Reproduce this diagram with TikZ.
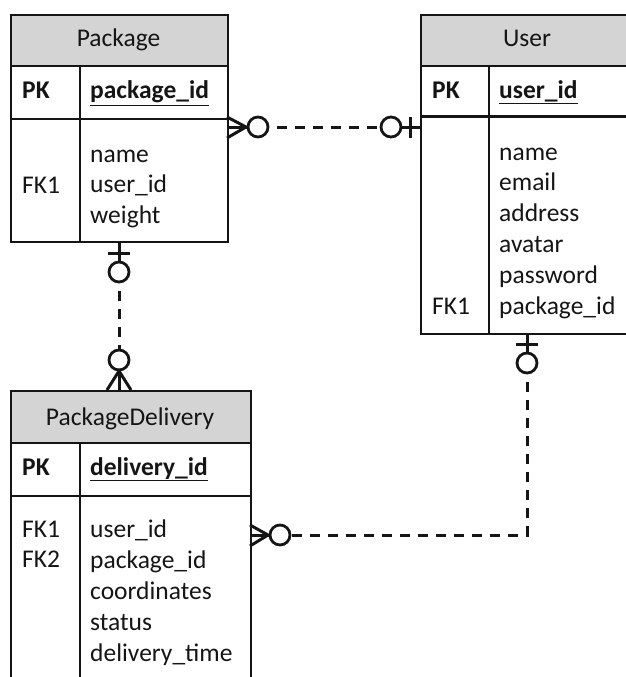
\documentclass[tikz,border=0pt]{standalone}
\usepackage{fontspec}
\setmainfont{Carlito}
\definecolor{hdrgray}{HTML}{D4D4D4}
\definecolor{ink}{HTML}{151515}
\begin{document}
\begin{tikzpicture}[x=1pt,y=-1pt,
  box/.style={draw=ink, line width=2.2pt, anchor=north west, inner sep=0pt,
    minimum width=#1},
  divider/.style={draw=ink, line width=2.2pt},
  title/.style={anchor=base, inner sep=0pt, text=ink},
  field/.style={anchor=base west, inner sep=0pt, text=ink},
  link/.style={draw=ink, line width=3pt},
  dashlink/.style={link, dash pattern=on 10pt off 8pt, dash phase=10pt},
  ring/.style={circle, draw=ink, line width=2.8pt, fill=white,
    minimum size=20pt, inner sep=0pt},
  every node/.append style={font=\fontsize{25.5}{30.8}\selectfont}]
\clip (0,0) rectangle (626,677);

% ---------- Package ----------
\node[box=217pt, minimum height=51pt, fill=hdrgray] (pkgH) at (10,14) {};
\node[box=217pt, minimum height=53pt] (pkgK) at (10,65) {};
\node[box=217pt, minimum height=123pt] (pkgA) at (10,118) {};
\draw[divider] ([xshift=70pt]pkgK.north west) -- ([xshift=70pt]pkgA.south west);
\node[title] (pkgT) at (118.5,47) {Package};
\node[field] (pkgPK) at (22,99) {\textbf{PK}};
\node[field] (pkgID) at (90,99) {\textbf{\underline{package\_id}}};
\node[field] (pkgFK) at (22,193) {FK1};
\foreach \t [count=\i from 0] in {name,user\_id,weight}
  \node[field] (pkgF\i) at (90,162+30.8*\i) {\t};

% ---------- User ----------
\node[box=230pt, minimum height=51pt, fill=hdrgray] (usrH) at (420,14) {};
\node[box=230pt, minimum height=51pt] (usrK) at (420,65) {};
\node[box=230pt, minimum height=218pt] (usrA) at (420,115) {};
\draw[divider] ([xshift=69pt]usrK.north west) -- ([xshift=69pt]usrA.south west);
\node[title] (usrT) at (527,47) {User};
\node[field] (usrPK) at (432,98) {\textbf{PK}};
\node[field] (usrID) at (499,98) {\textbf{\underline{user\_id}}};
\node[field] (usrFK) at (432,314) {FK1};
\foreach \t [count=\i from 0] in {name,email,address,avatar,password,package\_id}
  \node[field] (usrF\i) at (499,160+30.8*\i) {\t};

% ---------- PackageDelivery ----------
\node[box=240pt, minimum height=52pt, fill=hdrgray] (delH) at (10,390) {};
\node[box=240pt, minimum height=53pt] (delK) at (10,442) {};
\node[box=240pt, minimum height=220pt] (delA) at (10,495) {};
\draw[divider] ([xshift=70pt]delK.north west) -- ([xshift=70pt]delA.south west);
\node[title] (delT) at (130,425) {PackageDelivery};
\node[field] (delPK) at (22,475) {\textbf{PK}};
\node[field] (delID) at (90,475) {\textbf{\underline{delivery\_id}}};
\node[field] (delFK1) at (22,537) {FK1};
\node[field] (delFK2) at (22,567.8) {FK2};
\foreach \t [count=\i from 0] in {user\_id,package\_id,coordinates,status,delivery\_time}
  \node[field] (delF\i) at (90,537+31*\i) {\t};

% ---------- Package (many, optional) -- User (one, optional) ----------
\coordinate (p1) at (227,127);
\coordinate (u1) at (420,127);
\node[ring] (r1a) at (258,127) {};
\node[ring] (r1b) at (391,127) {};
\draw[link] (p1) -- (r1a.west);
\draw[link] (227,117) -- (246,127) -- (227,138);
\draw[dashlink] (r1a.east) -- (r1b.west);
\draw[link] (r1b.east) -- (u1);
\draw[link] (410,117) -- (410,138);

% ---------- Package (one, optional) -- PackageDelivery (many, optional) ----------
\coordinate (p2) at (119,241);
\coordinate (d2) at (119,390);
\node[ring] (r2a) at (119,272) {};
\node[ring] (r2b) at (119,360) {};
\draw[link] (p2) -- (r2a.north);
\draw[link] (108,253) -- (130,253);
\draw[dashlink] (r2a.south) -- (r2b.north);
\draw[link] (r2b.south) -- (d2);
\draw[link] (107,390) -- (119,371) -- (131,390);

% ---------- User (one, optional) -- PackageDelivery (many, optional) ----------
\coordinate (u3) at (527,333);
\coordinate (k3) at (527,535);
\coordinate (d3) at (250,535);
\node[ring] (r3a) at (527,363) {};
\node[ring] (r3b) at (280,535) {};
\draw[link] (u3) -- (r3a.north);
\draw[link] (516,344) -- (538,344);
\draw[dashlink] (r3a.south) -- (k3) -- (r3b.east);
\draw[link] (r3b.west) -- (d3);
\draw[link] (250,525) -- (268,535) -- (250,546);
\end{tikzpicture}
\end{document}
